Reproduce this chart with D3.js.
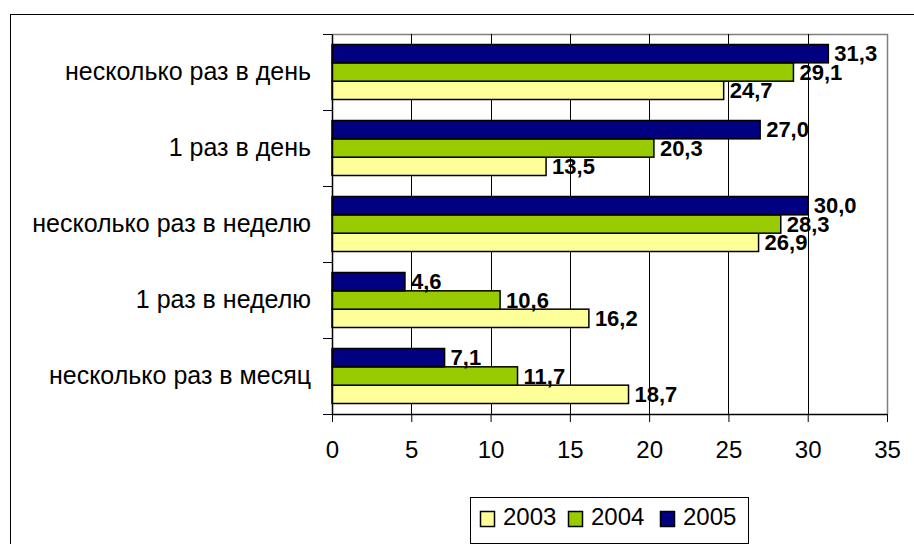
<!DOCTYPE html>
<html>
<head>
<meta charset="utf-8">
<script src="https://cdn.jsdelivr.net/npm/d3@7"></script>
<style>
  body { margin: 0; background: #fff; }
  svg { display: block; font-family: Arial, 'Liberation Sans', sans-serif; }
</style>
</head>
<body>
<svg id="chart" width="914" height="544"></svg>
<script>
const categories = ['несколько раз в день', '1 раз в день', 'несколько раз в неделю', '1 раз в неделю', 'несколько раз в месяц'];
const years = ['2003', '2004', '2005'];
const values2003 = [24.7, 13.5, 26.9, 16.2, 18.7];
const values2004 = [29.1, 20.3, 28.3, 10.6, 11.7];
const values2005 = [31.3, 27.0, 30.0, 4.6, 7.1];
const xTicks = [0, 5, 10, 15, 20, 25, 30, 35];

const colors = { '2003': '#ffff99', '2004': '#99cc00', '2005': '#000080' };
const seriesValues = { '2003': values2003, '2004': values2004, '2005': values2005 };

const svg = d3.select('#chart');
const plot = { left: 332, top: 34, right: 887, bottom: 414 };

// outer chart frame (runs off the page on the right and bottom)
svg.append('rect')
    .attr('x', 10.5).attr('y', 14.5)
    .attr('width', 1000).attr('height', 1000)
    .attr('fill', 'none').attr('stroke', '#000').attr('stroke-width', 1);

const x = d3.scaleLinear().domain([0, 35]).range([plot.left, plot.right]);
const y = d3.scaleBand().domain(categories).range([plot.top, plot.bottom]);
const inner = d3.scaleBand().domain(['2005', '2004', '2003']).range([10.5, 65.5]);

// plot border (grey top/right)
svg.append('path')
    .attr('d', `M${plot.left},${plot.top + 0.5}H${plot.right + 0.5}V${plot.bottom}`)
    .attr('fill', 'none').attr('stroke', '#808080').attr('stroke-width', 1.5);

// vertical gridlines
svg.append('g')
    .selectAll('line')
    .data(xTicks.slice(1, -1))
    .enter().append('line')
    .attr('x1', d => Math.round(x(d)) + 0.5)
    .attr('x2', d => Math.round(x(d)) + 0.5)
    .attr('y1', plot.top)
    .attr('y2', plot.bottom)
    .attr('stroke', '#000').attr('stroke-width', 1);

// bars
const rows = categories.map((c, i) => ({ cat: c, items: years.map(yr => ({ year: yr, value: seriesValues[yr][i] })) }));

const groups = svg.append('g')
    .selectAll('g')
    .data(rows)
    .enter().append('g')
    .attr('transform', d => `translate(0,${y(d.cat)})`);

groups.selectAll('rect')
    .data(d => d.items)
    .enter().append('rect')
    .attr('x', x(0))
    .attr('y', d => inner(d.year))
    .attr('width', d => x(d.value) - x(0))
    .attr('height', inner.bandwidth())
    .attr('fill', d => colors[d.year])
    .attr('stroke', '#000')
    .attr('stroke-width', 1.5);

groups.selectAll('text')
    .data(d => d.items)
    .enter().append('text')
    .attr('x', d => x(d.value) + 6)
    .attr('y', d => inner(d.year) + inner.bandwidth() / 2 + 7.5)
    .attr('font-size', 22)
    .attr('font-weight', 'bold')
    .attr('fill', '#000')
    .text(d => d.value.toFixed(1).replace('.', ','));

// x axis
const xAxis = svg.append('g')
    .attr('transform', `translate(0,${plot.bottom})`)
    .call(d3.axisBottom(x).tickValues(xTicks).tickSize(8).tickPadding(19).tickSizeOuter(0));
xAxis.select('.domain').attr('stroke', '#000').attr('stroke-width', 1.5);
xAxis.selectAll('.tick line').attr('stroke', '#000');
xAxis.selectAll('.tick text').attr('font-size', 24).attr('font-family', null).attr('fill', '#000');

// y axis: labels and category boundary ticks
const yAxis = svg.append('g')
    .attr('transform', `translate(${plot.left},0)`)
    .call(d3.axisLeft(y).tickSize(0).tickPadding(21));
yAxis.select('.domain').attr('stroke', '#000').attr('stroke-width', 1.5);
yAxis.selectAll('.tick text').attr('font-size', 25).attr('font-family', null).attr('fill', '#000');

const bounds = categories.map(c => y(c)).concat([plot.bottom]);
svg.append('g')
    .selectAll('line')
    .data(bounds)
    .enter().append('line')
    .attr('x1', plot.left - 9).attr('x2', plot.left)
    .attr('y1', d => Math.round(d) + 0.5).attr('y2', d => Math.round(d) + 0.5)
    .attr('stroke', '#000');

// legend
const legend = svg.append('g');
legend.append('rect')
    .attr('x', 470.5).attr('y', 497.5)
    .attr('width', 278).attr('height', 46)
    .attr('fill', '#fff').attr('stroke', '#000');

const legendX = [480, 568, 660];
const items = legend.selectAll('g')
    .data(years)
    .enter().append('g')
    .attr('transform', (d, i) => `translate(${legendX[i]},511)`);
items.append('rect')
    .attr('x', 0.5).attr('y', 0.5)
    .attr('width', 14).attr('height', 15)
    .attr('fill', d => colors[d])
    .attr('stroke', '#000').attr('stroke-width', 1.5);
items.append('text')
    .attr('x', 23).attr('y', 13.5)
    .attr('font-size', 24)
    .attr('fill', '#000')
    .text(d => d);
</script>
</body>
</html>
